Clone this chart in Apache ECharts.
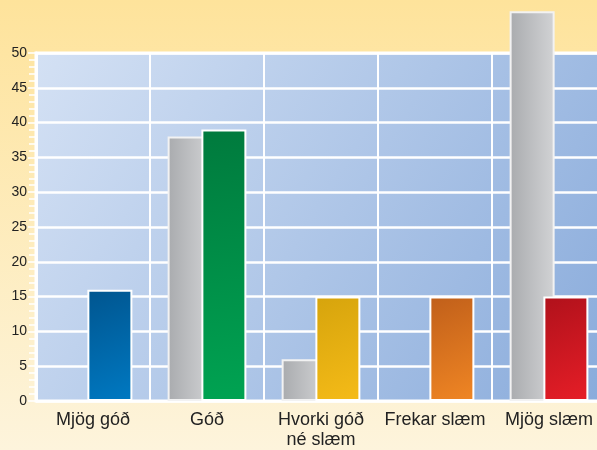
<!DOCTYPE html>
<html>
<head>
<meta charset="utf-8">
<script src="https://cdn.jsdelivr.net/npm/echarts@6/dist/echarts.min.js"></script>
<style>
  html, body { margin: 0; padding: 0; }
  #chart { width: 597px; height: 450px; }
</style>
</head>
<body>
<div id="chart"></div>
<script>
  var categories = ['Mjög góð', 'Góð', 'Hvorki góð\nné slæm', 'Frekar slæm', 'Mjög slæm'];
  var greyValues = [0, 38, 6, 0, 56];
  var colorValues = [16, 39, 15, 15, 15];
  var yTicks = [0, 5, 10, 15, 20, 25, 30, 35, 40, 45, 50];

  // dark / light end of each coloured bar
  var barColors = [
    ['#00558f', '#0079c2'],
    ['#007a3d', '#00a352'],
    ['#d6a40c', '#f5bb18'],
    ['#c05f1a', '#f08624'],
    ['#b0111b', '#e61e27']
  ];

  function grad(a, b, x2, y2) {
    return new echarts.graphic.LinearGradient(0, 0, x2, y2, [
      { offset: 0, color: a }, { offset: 1, color: b }
    ]);
  }

  var chart = echarts.init(document.getElementById('chart'));

  chart.setOption({
    backgroundColor: grad('#fee39b', '#fdf4dc', 0, 1),
    animation: false,
    grid: {
      left: 36, right: -9, top: 53, bottom: 49,
      outerBoundsMode: 'none',
      containLabel: false,
      show: true,
      backgroundColor: grad('#d4e1f4', '#89abdb', 1, 1),
      borderColor: '#ffffff',
      borderWidth: 3
    },
    xAxis: {
      type: 'category',
      data: categories,
      axisLine: { show: false },
      axisTick: { show: false },
      splitLine: { show: true, lineStyle: { color: '#ffffff', width: 2 } },
      axisLabel: {
        color: '#222222', fontSize: 18, fontFamily: 'Liberation Sans, Arial',
        margin: 9, lineHeight: 20, interval: 0
      }
    },
    yAxis: {
      type: 'value',
      min: yTicks[0], max: yTicks[yTicks.length - 1], interval: 5,
      axisLine: { show: true, lineStyle: { color: '#ffffff', width: 3 } },
      axisTick: { show: true, length: 8, lineStyle: { color: '#ffffff', width: 1.5 } },
      minorTick: { show: true, splitNumber: 5, length: 7, lineStyle: { color: '#ffffff', width: 1.5 } },
      splitLine: { show: true, lineStyle: { color: '#ffffff', width: 2.5 } },
      axisLabel: {
        color: '#222222', fontSize: 14, fontFamily: 'Liberation Sans, Arial', margin: 9,
        formatter: function (v) { return yTicks.indexOf(v) >= 0 ? String(v) : ''; }
      }
    },
    series: [
      {
        type: 'bar',
        // zero bars are not drawn at all in the original
        data: greyValues.map(function (v) { return v === 0 ? '-' : v; }),
        barWidth: 45,
        barGap: '-25%',
        clip: false,
        itemStyle: {
          color: grad('#a9abae', '#d2d3d5', 1, 0),
          borderColor: '#f2f2f2',
          borderWidth: 2
        },
        z: 2
      },
      {
        type: 'bar',
        data: colorValues.map(function (v, i) {
          return { value: v, itemStyle: { color: grad(barColors[i][0], barColors[i][1], 1, 1) } };
        }),
        barWidth: 45,
        barGap: '-25%',
        clip: false,
        itemStyle: { borderColor: '#ffffff', borderWidth: 2 },
        z: 3
      }
    ]
  });
</script>
</body>
</html>
